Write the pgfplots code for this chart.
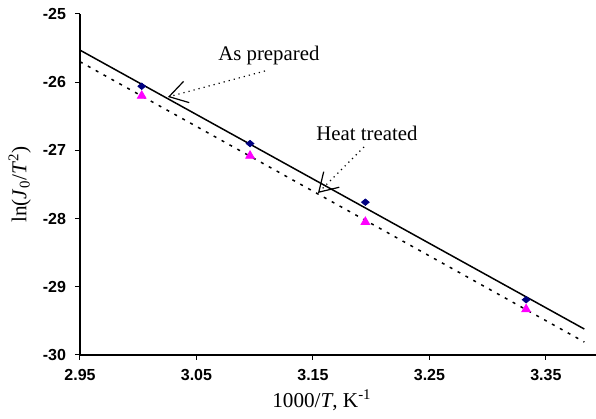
\documentclass[border=0pt]{standalone}
\usepackage{fontspec}
\setmainfont{Liberation Serif}
\newfontfamily\arialfont{Liberation Sans}
\usepackage{pgfplots}
\pgfplotsset{compat=1.18}
\usetikzlibrary{arrows.meta}

% measured points, x = 1000/T
\pgfplotstableread{
x y
3.003 -26.06
3.096 -26.90
3.195 -27.76
3.333 -29.19
}\asprepared
\pgfplotstableread{
x y
3.003 -26.20
3.096 -27.08
3.195 -28.05
3.333 -29.33
}\heattreated

\begin{document}
\begin{tikzpicture}
\begin{axis}[
    scale only axis,
    width=258pt, height=170.5pt,
    xmin=2.95, xmax=3.393,
    ymin=-30, ymax=-25,
    axis x line*=bottom, axis y line*=left,
    axis line style={line width=0.6pt},
    tick align=outside, major tick length=2.5pt,
    tick style={line width=0.5pt, black},
    xtick={2.95,3.05,3.15,3.25,3.35},
    xticklabels={2.95,3.05,3.15,3.25,3.35},
    ytick={-30,-29,-28,-27,-26,-25},
    yticklabels={-30,-29,-28,-27,-26,-25},
    ticklabel style={font=\arialfont\bfseries\fontsize{8}{9.5}\selectfont},
    xticklabel style={yshift=-1pt},
    yticklabel style={xshift=-1pt},
    xlabel={1000/\textit{T}, K\textsuperscript{-1}},
    ylabel={ln(\textit{J}\textsubscript{0}/\textit{T}\textsuperscript{2})},
    label style={font=\fontsize{10.6}{12}\selectfont},
    xlabel style={at={(rel axis cs:0.469,0)}, anchor=north, yshift=-14pt},
    ylabel style={at={(rel axis cs:0,0.5)}, anchor=south, yshift=21pt},
    clip=false,
]
    % fitted lines
    \addplot[black, line width=0.75pt] coordinates {(2.95,-25.53) (3.383,-29.62)};
    \addplot[black, line width=0.75pt, dash pattern=on 1.5pt off 3pt] coordinates {(2.95,-25.70) (3.383,-29.81)};
    % data
    \addplot[only marks, mark=diamond*, mark size=1.6pt, mark options={xscale=1.6}, color={rgb,255:red,0;green,0;blue,128}] table[x=x,y=y] {\asprepared};
    \addplot[only marks, mark=triangle*, mark size=2.5pt, color={rgb,255:red,255;green,0;blue,255}] table[x=x,y=y] {\heattreated};

    % annotations
    \node[font=\fontsize{10.4}{12}\selectfont] at (axis cs:3.1122,-25.616) {As prepared};
    \draw[dotted, line width=0.6pt, -{Straight Barb[length=9pt,width=11pt,line width=0.6pt]}]
        (axis cs:3.1088,-25.836) -- (axis cs:3.0255,-26.217);
    \node[font=\fontsize{10.4}{12}\selectfont] at (axis cs:3.1964,-26.745) {Heat treated};
    \draw[dotted, line width=0.6pt, -{Straight Barb[length=9pt,width=11pt,line width=0.6pt]}]
        (axis cs:3.1938,-26.95) -- (axis cs:3.1543,-27.625);

    \coordinate (bbl) at (rel axis cs:-0.155,-0.1877);
    \coordinate (bbr) at (rel axis cs:1.0,1.041);
\end{axis}
\pgfresetboundingbox
\path[use as bounding box] (bbl) rectangle (bbr);
\end{tikzpicture}
\end{document}
